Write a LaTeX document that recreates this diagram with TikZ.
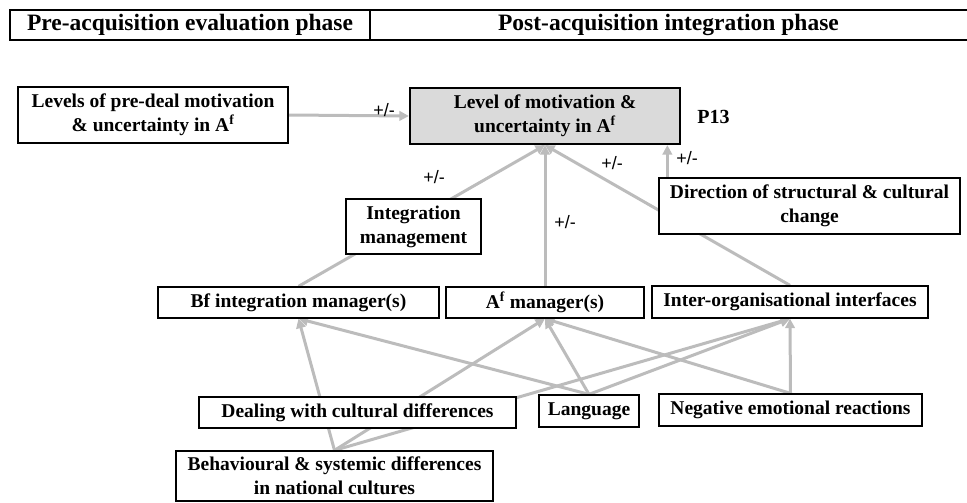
\documentclass[tikz,border=0pt]{standalone}
\usepackage{fontspec}
\setmainfont{Liberation Serif}
\newfontfamily\labfont{Liberation Sans}
\usetikzlibrary{arrows.meta}
\pgfdeclarelayer{links}
\pgfsetlayers{links,main}
\definecolor{linkgray}{RGB}{188,188,188}
\definecolor{boxgray}{RGB}{218,218,218}

\begin{document}
\begin{tikzpicture}[x=1pt,y=-1pt,
  box/.style={draw=black, line width=1.3pt, fill=white, align=center, inner sep=0pt,
    font=\fontsize{19.5}{24}\selectfont\bfseries},
  phase/.style={draw=black, line width=2pt, inner sep=0pt, minimum height=30pt,
    font=\fontsize{23.5}{27}\selectfont\bfseries},
  link/.style={draw=linkgray, line width=3pt, -{Triangle[length=9.5pt,width=9.5pt]}},
  pm/.style={font=\labfont\fontsize{18}{21}\selectfont, inner sep=0pt},
]
\useasboundingbox (0,0) rectangle (967,503);

% phase header
\node[phase, minimum width=360pt] (pre-phase) at (190,25) {Pre-acquisition evaluation phase};
\node[phase, minimum width=610pt] (post-phase) at (675,25) {\hspace*{-13pt}Post-acquisition integration phase};

% boxes
\node[box, minimum width=270pt, minimum height=56pt] (predeal) at (153,115)
  {Levels of pre-deal motivation\\ \& uncertainty in A\textsuperscript{f}};
\node[box, fill=boxgray, line width=2.2pt, minimum width=270pt, minimum height=56pt] (level) at (545,116)
  {Level of motivation \&\\ uncertainty in A\textsuperscript{f}};
\node[font=\fontsize{20}{24}\selectfont\bfseries, inner sep=0pt] (p13) at (713.5,116.5) {P13};
\node[box, minimum width=301pt, minimum height=56pt] (direction) at (809.5,206)
  {Direction of structural \& cultural\\ change};
\node[box, minimum width=135pt, minimum height=55pt] (intmgmt) at (413.5,226.5)
  {Integration\\ management};
\node[box, minimum width=281pt, minimum height=31pt] (bfmgr) at (298.5,302.5)
  {Bf integration manager(s)};
\node[box, minimum width=198pt, minimum height=31pt] (afmgr) at (545,302.5)
  {A\textsuperscript{f} manager(s)};
\node[box, minimum width=276pt, minimum height=32pt] (interfaces) at (790,302)
  {Inter-organisational interfaces};
\node[box, minimum width=317pt, minimum height=31pt] (dealing) at (357.5,412.5)
  {Dealing with cultural differences};
\node[box, minimum width=100pt, minimum height=32pt] (language) at (589,411)
  {Language};
\node[box, minimum width=263pt, minimum height=32pt] (negative) at (790.5,410)
  {Negative emotional reactions};
\node[box, minimum width=317pt, minimum height=50pt] (behav) at (334.5,476)
  {Behavioural \& systemic differences\\ in national cultures};

\coordinate (dirfoot) at ([xshift=9pt]direction.north west);

% connectors, kept underneath the boxes
\begin{pgfonlayer}{links}
\draw[link] (predeal.east) -- (level.west);
\draw[link] (bfmgr.north) -- (level.south);
\draw[link] (afmgr.north) -- (level.south);
\draw[link] (interfaces.north) -- (level.south);
\draw[link] (dirfoot) -- (dirfoot |- level.south);

\draw[link] (behav.north) -- (bfmgr.south);
\draw[link] (behav.north) -- (afmgr.south);
\draw[link] (behav.north) -- (interfaces.south);
\draw[link] (language.north) -- (bfmgr.south);
\draw[link] (language.north) -- (afmgr.south);
\draw[link] (language.north) -- (interfaces.south);
\draw[link] (negative.north) -- (afmgr.south);
\draw[link] (negative.north) -- (interfaces.south);
\end{pgfonlayer}

% effect signs
\node[pm] (s1) at (384,110) {+/-};
\node[pm] (s2) at (434,177) {+/-};
\node[pm] (s3) at (565,222) {+/-};
\node[pm] (s4) at (612,163) {+/-};
\node[pm] (s5) at (687,158) {+/-};
\end{tikzpicture}
\end{document}
